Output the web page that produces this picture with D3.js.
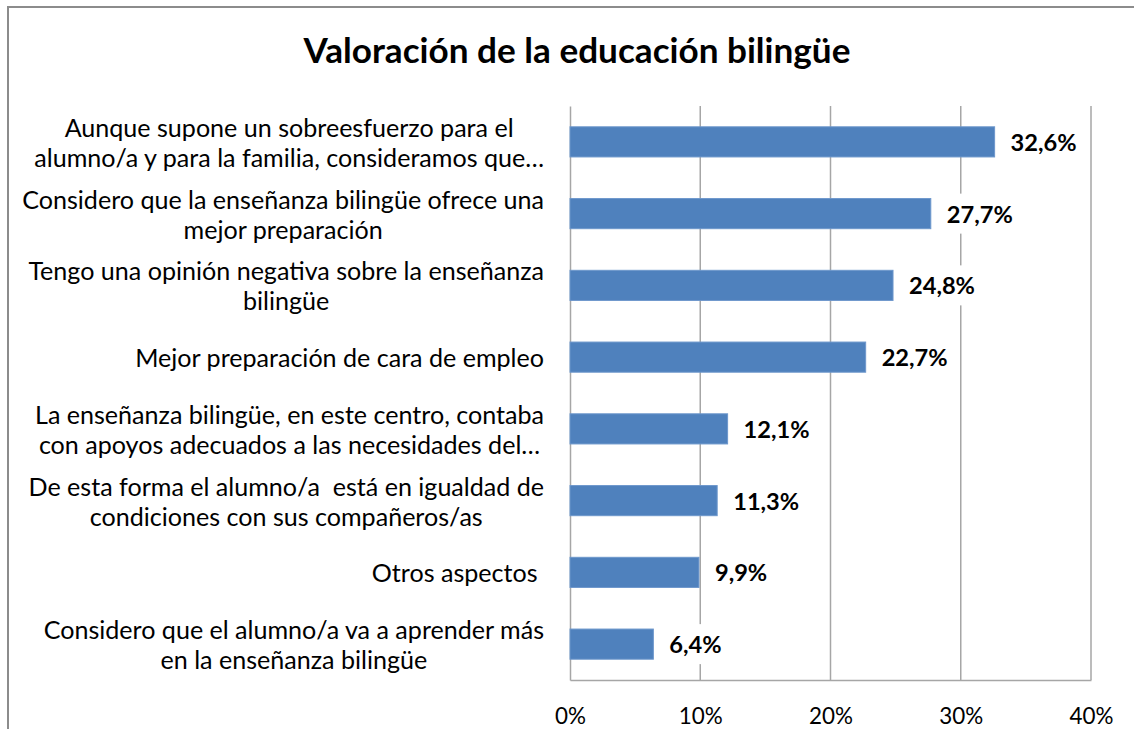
<!DOCTYPE html>
<html><head><meta charset="utf-8">
<script src="https://cdn.jsdelivr.net/npm/d3@7"></script>
<style>body{margin:0;background:#fff;overflow:hidden} text{white-space:pre}</style>
</head><body><svg id="c" width="1134" height="729"></svg>
<script>
const title = "Valoración de la educación bilingüe";
const categories = [
  "Aunque supone un sobreesfuerzo para el\nalumno/a y para la familia, consideramos que…",
  "Considero que la enseñanza bilingüe ofrece una\nmejor preparación",
  "Tengo una opinión negativa sobre la enseñanza\nbilingüe",
  "Mejor preparación de cara de empleo",
  "La enseñanza bilingüe, en este centro, contaba\ncon apoyos adecuados a las necesidades del…",
  "De esta forma el alumno/a  está en igualdad de\ncondiciones con sus compañeros/as",
  "Otros aspectos ",
  "Considero que el alumno/a va a aprender más\nen la enseñanza bilingüe"
];
const values = [32.6, 27.7, 24.8, 22.7, 12.1, 11.3, 9.9, 6.4];
const valueLabels = ["32,6%", "27,7%", "24,8%", "22,7%", "12,1%", "11,3%", "9,9%", "6,4%"];
const ticks = [0, 10, 20, 30, 40];
const tickLabels = ["0%", "10%", "20%", "30%", "40%"];

const FONT = "Lato, 'Open Sans', sans-serif";
const svg = d3.select("#c");

function fitSize(sample, weight, target) {
  const t = svg.append("text").attr("font-family", FONT).attr("font-weight", weight)
    .attr("font-size", 100).text(sample);
  const w = t.node().getComputedTextLength();
  t.remove();
  return 100 * target / w;
}
const titleSize = fitSize(title, "bold", 547);
const catSize = fitSize("Mejor preparación de cara de empleo", "normal", 409);
const valSize = fitSize("32,6%", "bold", 66);
const tickSize = fitSize("10%", "normal", 44);

// chart border
svg.append("rect").attr("x", 8).attr("y", 7).attr("width", 1200).attr("height", 800)
  .attr("fill", "none").attr("stroke", "#8c8c8c").attr("stroke-width", 2);

const x = d3.scaleLinear().domain([0, 40]).range([570, 1091]);
const y = d3.scaleBand().domain(d3.range(categories.length)).range([106, 680])
  .paddingInner(0.58).paddingOuter(0.29);

// title
svg.append("text").attr("x", 577).attr("y", 63).attr("text-anchor", "middle")
  .attr("font-family", FONT).attr("font-weight", "bold").attr("font-size", titleSize)
  .attr("fill", "#000").text(title);

// gridlines
svg.append("g").selectAll("line").data(ticks.slice(1)).join("line")
  .attr("x1", d => x(d)).attr("x2", d => x(d)).attr("y1", 106).attr("y2", 680)
  .attr("stroke", "#a6a6a6").attr("stroke-width", 1.5);

// bottom axis
const xAxis = d3.axisBottom(x).tickValues(ticks).tickSize(0).tickPadding(0)
  .tickFormat((d, i) => tickLabels[i]);
const gx = svg.append("g").attr("transform", "translate(0,680)").call(xAxis);
gx.select(".domain").attr("stroke", "#a6a6a6").attr("stroke-width", 1.5);
gx.selectAll("text").attr("font-family", FONT).attr("font-size", tickSize)
  .attr("fill", "#000").attr("dy", null).attr("y", 35).attr("dominant-baseline", "central");

// left axis line
const yAxis = d3.axisLeft(y).tickSize(0).tickFormat("");
const gy = svg.append("g").attr("transform", "translate(570,0)").call(yAxis);
gy.select(".domain").attr("stroke", "#a6a6a6").attr("stroke-width", 1.5);

// bars
svg.append("g").selectAll("rect").data(values).join("rect")
  .attr("x", x(0)).attr("y", (d, i) => y(i))
  .attr("width", d => x(d) - x(0)).attr("height", y.bandwidth())
  .attr("fill", "#4f81bd").attr("stroke", "#6d97cc").attr("stroke-width", 1);

// data labels with white background
const lg = svg.append("g").selectAll("g").data(values).join("g")
  .attr("transform", (d, i) => `translate(${x(d) + 16},${y(i) + y.bandwidth() / 2})`);
const lt = lg.append("text").attr("font-family", FONT).attr("font-weight", "bold")
  .attr("font-size", valSize).attr("dominant-baseline", "central").attr("fill", "#000")
  .text((d, i) => valueLabels[i]);
lg.insert("rect", "text").attr("x", -4).attr("y", -20).attr("height", 40)
  .attr("width", function (d, i) { return lt.nodes()[i].getComputedTextLength() + 8; })
  .attr("fill", "#fff");

// category labels
const RIGHT = 544, LH = 30;
categories.forEach((c, i) => {
  const lines = c.split("\n");
  const cy = y(i) + y.bandwidth() / 2;
  const g = svg.append("g");
  const texts = lines.map((l, j) => g.append("text").attr("font-family", FONT)
    .attr("font-size", catSize).attr("fill", "#000").attr("text-anchor", "middle")
    .attr("dominant-baseline", "central")
    .attr("y", cy + (j - (lines.length - 1) / 2) * LH).text(l));
  const w = d3.max(texts, t => t.node().getComputedTextLength());
  texts.forEach(t => t.attr("x", RIGHT - w / 2));
});
</script></body></html>
